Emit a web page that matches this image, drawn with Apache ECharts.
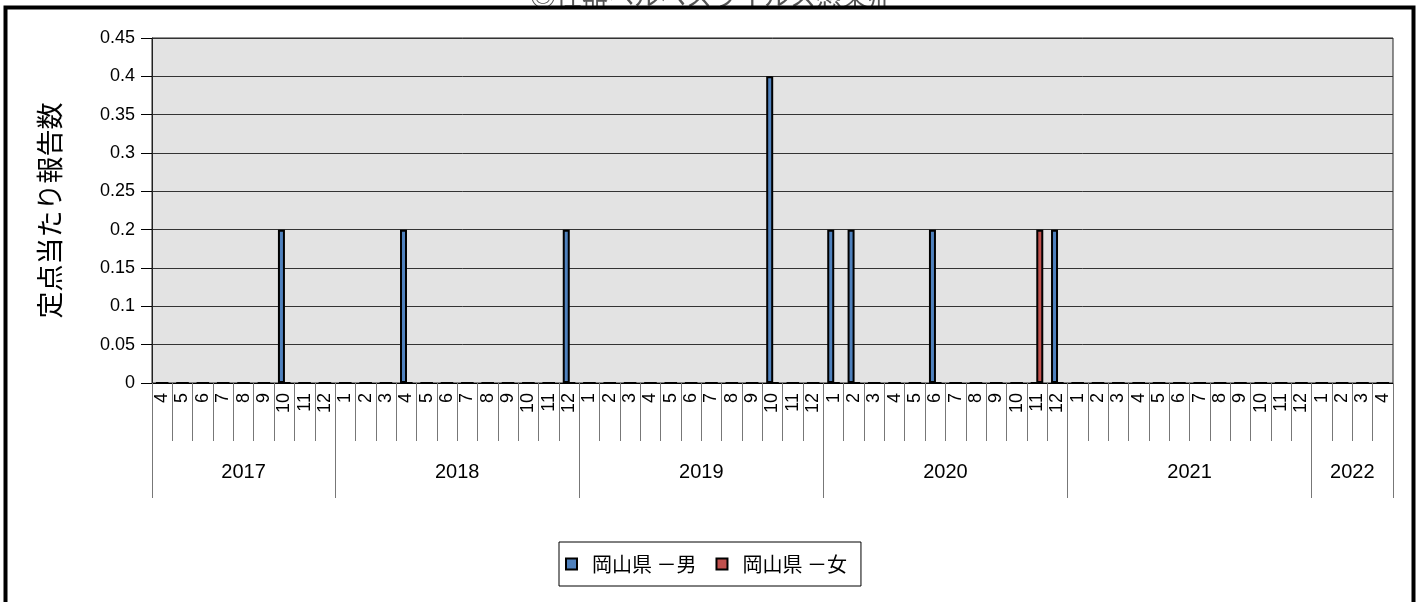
<!DOCTYPE html>
<html>
<head>
<meta charset="utf-8">
<script src="https://cdn.jsdelivr.net/npm/echarts@6/dist/echarts.min.js"></script>
<style>
html,body{margin:0;padding:0;background:#fff;}
#chart{width:1424px;height:602px;}
</style>
</head>
<body>
<div id="chart"></div>
<script>
const titleText = '◎性器ヘルペスウイルス感染症';
const yAxisName = '定点当たり報告数';
const monthLabels = [
  '4','5','6','7','8','9','10','11','12',
  '1','2','3','4','5','6','7','8','9','10','11','12',
  '1','2','3','4','5','6','7','8','9','10','11','12',
  '1','2','3','4','5','6','7','8','9','10','11','12',
  '1','2','3','4','5','6','7','8','9','10','11','12',
  '1','2','3','4'
];
const yearLabels = ['2017','2018','2019','2020','2021','2022'];
const yearMonthCounts = [9,12,12,12,12,4];
const seriesNames = ['岡山県 －男','岡山県 －女'];
const maleValues = [
  0,0,0,0,0,0,0.2,0,0,
  0,0,0,0.2,0,0,0,0,0,0,0,0.2,
  0,0,0,0,0,0,0,0,0,0.4,0,0,
  0.2,0.2,0,0,0,0.2,0,0,0,0,0,0.2,
  0,0,0,0,0,0,0,0,0,0,0,0,
  0,0,0,0
];
const femaleValues = [
  0,0,0,0,0,0,0,0,0,
  0,0,0,0,0,0,0,0,0,0,0,0,
  0,0,0,0,0,0,0,0,0,0,0,0,
  0,0,0,0,0,0,0,0,0,0,0.2,0,
  0,0,0,0,0,0,0,0,0,0,0,0,
  0,0,0,0
];
const yTicks = {min:0, max:0.45, interval:0.05};

// half-month positions for the year axis
const halfCount = monthLabels.length * 2 + 1;
const halfData = [];
for (let i = 0; i < halfCount; i++) halfData.push(String(i));
const yearBoundaries = [0];
const yearCenters = {};
let acc = 0;
yearMonthCounts.forEach((c, k) => {
  yearCenters[acc * 2 + c] = yearLabels[k];
  acc += c;
  yearBoundaries.push(acc * 2);
});

const fontLatin = '"Liberation Sans", Arial, sans-serif';
const fontCJK = '"Noto Sans CJK JP", "Liberation Sans", sans-serif';

const chart = echarts.init(document.getElementById('chart'), null, {renderer:'canvas'});
chart.setOption({
  animation:false,
  backgroundColor:'#fff',
  title:{
    text:titleText, left:'center', top:-22,
    textStyle:{fontFamily:fontCJK, fontSize:26, fontWeight:'normal', color:'#555'}
  },
  graphic:[{
    type:'rect', silent:true, z:100,
    shape:{x:5.5, y:7.5, width:1408, height:640},
    style:{fill:'none', stroke:'#000', lineWidth:4}
  }],
  grid:{
    left:152, right:31, top:38, bottom:219,
    show:true, backgroundColor:'#e3e3e3', borderColor:'#222', borderWidth:1
  },
  legend:{
    data:seriesNames,
    left:559, top:542,
    orient:'horizontal',
    padding:[12,14,12,6],
    itemGap:19,
    itemWidth:11, itemHeight:11,
    icon:'rect',
    borderColor:'#000', borderWidth:1,
    backgroundColor:'#fff',
    textStyle:{fontFamily:fontCJK, fontSize:20, color:'#000', padding:[0,0,0,10]}
  },
  xAxis:[{
    type:'category',
    data:monthLabels,
    position:'bottom',
    boundaryGap:true,
    axisLine:{show:true, lineStyle:{color:'#000', width:1}},
    axisTick:{show:true, interval:0, length:58, lineStyle:{color:'#777'}},
    axisLabel:{interval:0, rotate:90, margin:10, fontFamily:fontLatin, fontSize:18, color:'#000'},
    splitLine:{show:false}
  },{
    type:'category',
    data:halfData,
    position:'bottom',
    boundaryGap:false,
    axisLine:{show:false},
    axisTick:{show:true, length:115, lineStyle:{color:'#777'},
      interval:function(i){ return yearBoundaries.indexOf(i) >= 0; }},
    axisLabel:{show:true, margin:79, fontFamily:fontLatin, fontSize:20, color:'#000',
      interval:function(i){ return yearCenters[i] !== undefined; },
      formatter:function(v, i){ return yearCenters[i] || ''; }},
    splitLine:{show:false}
  }],
  yAxis:{
    type:'value',
    min:yTicks.min, max:yTicks.max, interval:yTicks.interval,
    name:yAxisName,
    nameLocation:'middle',
    nameGap:89,
    nameRotate:90,
    nameTextStyle:{fontFamily:fontCJK, fontSize:27, color:'#000'},
    axisLine:{show:true, lineStyle:{color:'#222'}},
    axisTick:{show:true, length:11, lineStyle:{color:'#000'}},
    axisLabel:{margin:17, fontFamily:fontLatin, fontSize:18, color:'#000'},
    splitLine:{show:true, lineStyle:{color:'#333', width:1}}
  },
  series:[{
    name:seriesNames[0], type:'bar', xAxisIndex:0,
    data:maleValues,
    barWidth:7, barGap:'-20%',
    itemStyle:{color:'#4f81bd', borderColor:'#000', borderWidth:2}
  },{
    name:seriesNames[1], type:'bar', xAxisIndex:0,
    data:femaleValues,
    barWidth:7, barGap:'-20%',
    itemStyle:{color:'#c0504d', borderColor:'#000', borderWidth:2}
  }]
});
</script>
</body>
</html>
